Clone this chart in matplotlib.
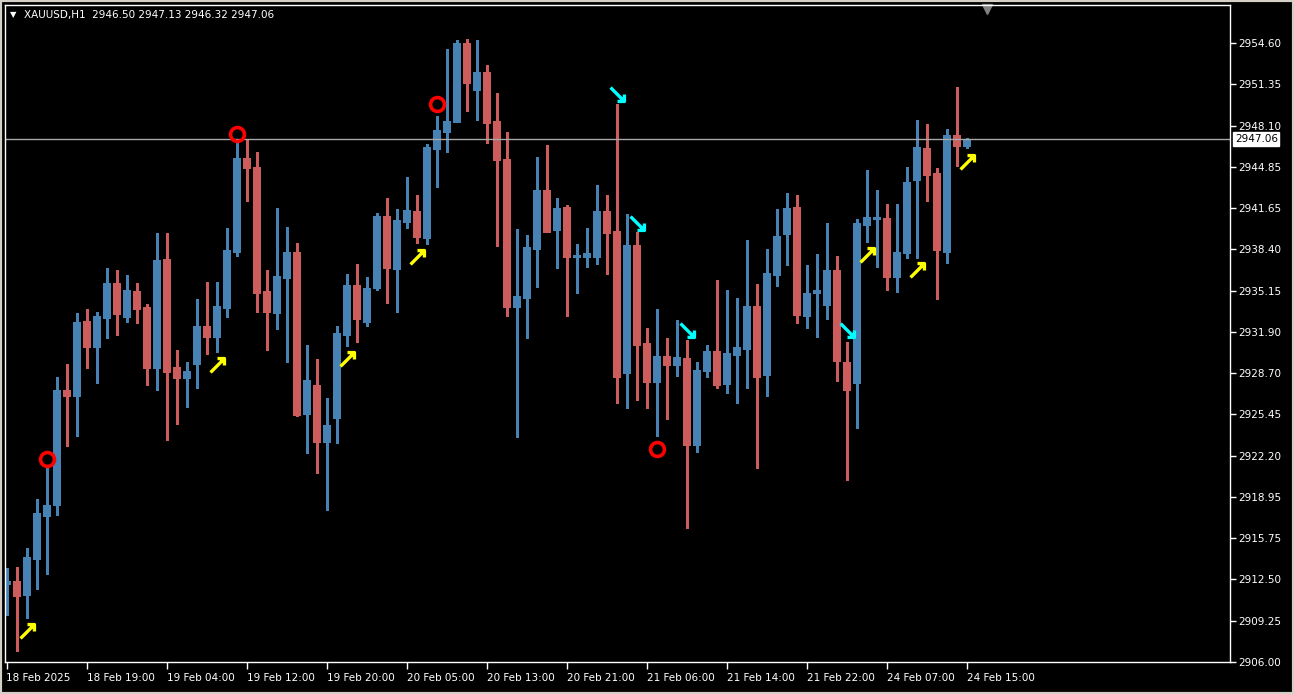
import numpy as np
import matplotlib
matplotlib.use('Agg')
import matplotlib.pyplot as plt
import matplotlib.transforms as mtransforms
from matplotlib.path import Path
from matplotlib.patches import Rectangle

# XAUUSD H1 candles (18 Feb 11:00 .. 24 Feb 15:00)
opens = [2912.12, 2912.36, 2911.26, 2914.09, 2917.46, 2918.33, 2927.36, 2926.88, 2932.77, 2930.73,
         2933.01, 2935.76, 2933.09, 2935.13, 2933.87, 2929.08, 2937.64, 2929.16, 2928.30, 2929.40,
         2932.38, 2931.52, 2933.79, 2938.19, 2945.57, 2944.86, 2935.13, 2933.40, 2936.15, 2938.19,
         2925.47, 2927.75, 2923.27, 2925.16, 2931.67, 2935.60, 2932.69, 2935.36, 2941.02, 2936.85,
         2940.54, 2941.41, 2939.29, 2946.28, 2947.61, 2948.40, 2954.60, 2950.91, 2952.32, 2948.47,
         2945.49, 2933.87, 2934.58, 2938.43, 2943.06, 2939.92, 2941.72, 2937.80, 2937.80, 2937.80,
         2941.41, 2939.84, 2928.69, 2938.74, 2931.05, 2927.98, 2930.02, 2929.32, 2929.87, 2923.04,
         2928.85, 2930.42, 2927.83, 2930.10, 2930.57, 2933.95, 2928.53, 2936.38, 2939.60, 2941.72,
         2933.16, 2934.97, 2934.03, 2936.78, 2929.55, 2927.90, 2940.31, 2940.78, 2940.86, 2936.23,
         2938.11, 2943.84, 2946.35, 2944.39, 2938.19, 2947.37, 2946.50]
highs = [2913.38, 2913.46, 2914.95, 2918.80, 2921.23, 2928.38, 2929.40, 2933.40, 2933.71, 2933.48,
         2936.93, 2936.78, 2936.38, 2935.76, 2934.11, 2939.68, 2939.68, 2930.50, 2929.55, 2934.50,
         2935.83, 2935.83, 2940.07, 2946.83, 2946.98, 2946.04, 2936.78, 2941.64, 2940.15, 2938.90,
         2930.89, 2929.79, 2926.73, 2932.38, 2936.46, 2937.25, 2936.23, 2941.25, 2942.43, 2941.57,
         2944.08, 2942.66, 2946.67, 2948.87, 2954.13, 2954.83, 2954.91, 2954.83, 2952.87, 2950.67,
         2947.61, 2939.99, 2939.52, 2945.65, 2946.59, 2942.43, 2941.88, 2938.82, 2940.07, 2943.45,
         2942.66, 2949.81, 2941.17, 2939.76, 2932.22, 2933.71, 2931.44, 2932.85, 2931.28, 2929.55,
         2930.89, 2935.99, 2935.21, 2934.58, 2939.13, 2935.68, 2938.43, 2941.57, 2942.82, 2942.66,
         2937.17, 2938.03, 2940.47, 2937.88, 2931.12, 2940.78, 2944.63, 2943.06, 2941.96, 2941.96,
         2944.86, 2948.55, 2948.24, 2944.78, 2947.85, 2951.14, 2947.13]
lows = [2909.69, 2906.86, 2909.45, 2911.73, 2912.91, 2917.54, 2922.96, 2923.74, 2929.08, 2927.90,
        2931.44, 2931.67, 2932.69, 2932.61, 2927.75, 2927.36, 2923.43, 2924.69, 2926.02, 2927.51,
        2930.18, 2930.34, 2933.09, 2937.88, 2942.19, 2933.48, 2930.50, 2932.14, 2929.55, 2925.31,
        2922.41, 2920.84, 2917.93, 2923.19, 2930.81, 2931.12, 2932.38, 2935.21, 2934.19, 2933.48,
        2940.07, 2938.90, 2938.82, 2943.29, 2946.04, 2948.40, 2949.26, 2948.55, 2946.75, 2938.66,
        2933.16, 2923.66, 2931.44, 2935.44, 2939.76, 2936.93, 2933.16, 2934.97, 2937.01, 2937.25,
        2936.46, 2926.33, 2925.94, 2926.57, 2925.94, 2923.74, 2925.08, 2928.45, 2916.52, 2922.49,
        2928.38, 2927.51, 2927.12, 2926.33, 2927.51, 2921.23, 2926.88, 2935.52, 2937.17, 2932.61,
        2932.22, 2931.52, 2932.93, 2928.06, 2920.29, 2924.37, 2938.97, 2937.01, 2935.21, 2935.05,
        2937.72, 2937.72, 2942.19, 2934.50, 2937.33, 2944.94, 2946.32]
closes = [2912.36, 2911.18, 2914.24, 2917.70, 2918.33, 2927.36, 2926.88, 2932.69, 2930.73, 2933.16,
          2935.76, 2933.32, 2935.21, 2933.71, 2929.08, 2937.56, 2928.77, 2928.30, 2928.85, 2932.38,
          2931.52, 2933.95, 2938.35, 2945.57, 2944.78, 2934.97, 2933.48, 2936.30, 2938.19, 2925.39,
          2928.14, 2923.27, 2924.61, 2931.83, 2935.60, 2932.93, 2935.36, 2941.02, 2936.93, 2940.70,
          2941.49, 2939.37, 2946.43, 2947.77, 2948.47, 2954.60, 2951.46, 2952.32, 2948.32, 2945.41,
          2933.87, 2934.73, 2938.58, 2943.06, 2939.76, 2941.64, 2937.80, 2937.95, 2938.11, 2941.41,
          2939.68, 2928.38, 2938.74, 2930.89, 2927.98, 2930.02, 2929.32, 2929.95, 2923.04, 2928.93,
          2930.42, 2927.75, 2930.26, 2930.73, 2933.95, 2928.38, 2936.54, 2939.45, 2941.64, 2933.24,
          2934.97, 2935.21, 2936.78, 2929.63, 2927.36, 2940.47, 2940.94, 2940.94, 2936.23, 2938.19,
          2943.69, 2946.43, 2944.23, 2938.35, 2947.37, 2946.51, 2947.06]

# indicator signals: candle index and price
circle_idx = [4, 23, 43, 65]
circle_price = [2921.94, 2947.45, 2949.81, 2922.72]
buy_idx = [2, 21, 34, 41, 86, 91, 96]
buy_price = [2908.43, 2929.32, 2929.79, 2937.80, 2937.95, 2936.78, 2945.26]
sell_idx = [61, 63, 68, 84]
sell_price = [2950.59, 2940.47, 2932.07, 2932.07]

xtick_idx = [0, 8, 16, 24, 32, 40, 48, 56, 64, 72, 80, 88, 96]
xtick_labels = ['18 Feb 2025', '18 Feb 19:00', '19 Feb 04:00', '19 Feb 12:00', '19 Feb 20:00',
                '20 Feb 05:00', '20 Feb 13:00', '20 Feb 21:00', '21 Feb 06:00', '21 Feb 14:00',
                '21 Feb 22:00', '24 Feb 07:00', '24 Feb 15:00']
ytick_vals = [2906.00, 2909.25, 2912.50, 2915.75, 2918.95, 2922.20, 2925.45, 2928.70,
              2931.90, 2935.15, 2938.40, 2941.65, 2944.85, 2948.10, 2951.35, 2954.60]

symbol = 'XAUUSD,H1'
BULL = '#4682B4'
BEAR = '#CD5C5C'

o = np.array(opens); h = np.array(highs); l = np.array(lows); c = np.array(closes)
x = np.arange(len(o))
cols = np.where(c >= o, BULL, BEAR)

W, H = 1294, 694
fig = plt.figure(figsize=(W / 100, H / 100), dpi=100, facecolor='black')
ax = fig.add_axes([5 / W, 32 / H, 1225 / W, 657 / H], facecolor='black')

ax.vlines(x, l, h, colors=cols, linewidth=1.0, antialiased=False)
ax.bar(x, np.maximum(np.abs(c - o), 0.05), bottom=np.minimum(o, c), width=0.62,
       color=cols, edgecolor=cols, linewidth=0.5, antialiased=False)

# current price line
ax.axhline(c[-1], color='#A8A8A8', linewidth=1.0)

up_arrow = Path([(-1, -1), (1, 1), (0, 1), (1, 1), (1, 0)],
                [Path.MOVETO, Path.LINETO, Path.MOVETO, Path.LINETO, Path.LINETO])
down_arrow = Path([(-1, 1), (1, -1), (0, -1), (1, -1), (1, 0)],
                  [Path.MOVETO, Path.LINETO, Path.MOVETO, Path.LINETO, Path.LINETO])
ax.plot(buy_idx, buy_price, linestyle='none', marker=up_arrow, ms=10,
        mfc='none', mec='#FFFF00', mew=2.4)
ax.plot(sell_idx, sell_price, linestyle='none', marker=down_arrow, ms=10,
        mfc='none', mec='#00FFFF', mew=2.4)
ax.plot(circle_idx, circle_price, linestyle='none', marker='o', ms=10,
        mfc='none', mec='#FF0000', mew=2.6)

ax.set_xlim(-0.15, 122.35)
ax.set_ylim(2906.0, 2906.0 + 657 / 12.737)

ax.yaxis.tick_right()
ax.set_yticks(ytick_vals)
ax.set_yticklabels([f'{v:.2f}' for v in ytick_vals])
ax.tick_params(axis='y', colors='white', length=4, width=1, pad=2, labelsize=7.5)
ax.set_xticks(xtick_idx)
ax.set_xticklabels(xtick_labels)
ax.tick_params(axis='x', colors='white', length=5, width=1, pad=3, labelsize=7.5)
for lab in ax.get_xticklabels():
    lab.set_horizontalalignment('left')
for s in ax.spines.values():
    s.set_color('white')
    s.set_linewidth(1)

# last price tag on the price scale
ax.text(1.004, c[-1], f'{c[-1]:.2f}', transform=ax.get_yaxis_transform(),
        ha='left', va='center', fontsize=7.5, color='black',
        bbox=dict(boxstyle='square,pad=0.15', fc='white', ec='white'))

# chart shift marker
shift_tr = mtransforms.offset_copy(ax.get_xaxis_transform(), fig=fig, y=-4, units='dots')
ax.plot([len(o) + 1.0], [1.0], marker='v', ms=7, color='#808080',
        transform=shift_tr, clip_on=False)

fig.text(10 / W, 1 - 15 / H, '\u25BC', color='white', fontsize=6, va='center', ha='left')
fig.text(24 / W, 1 - 15 / H, f'{symbol}  {o[-1]:.2f} {h[-1]:.2f} {l[-1]:.2f} {c[-1]:.2f}',
         color='white', fontsize=7.5, va='center', ha='left')

fig.patches.append(Rectangle((0, 0), 1, 1, transform=fig.transFigure, fill=False,
                             edgecolor='#D4D0C8', linewidth=3))

fig.savefig('out.png', dpi=100, facecolor='black')
